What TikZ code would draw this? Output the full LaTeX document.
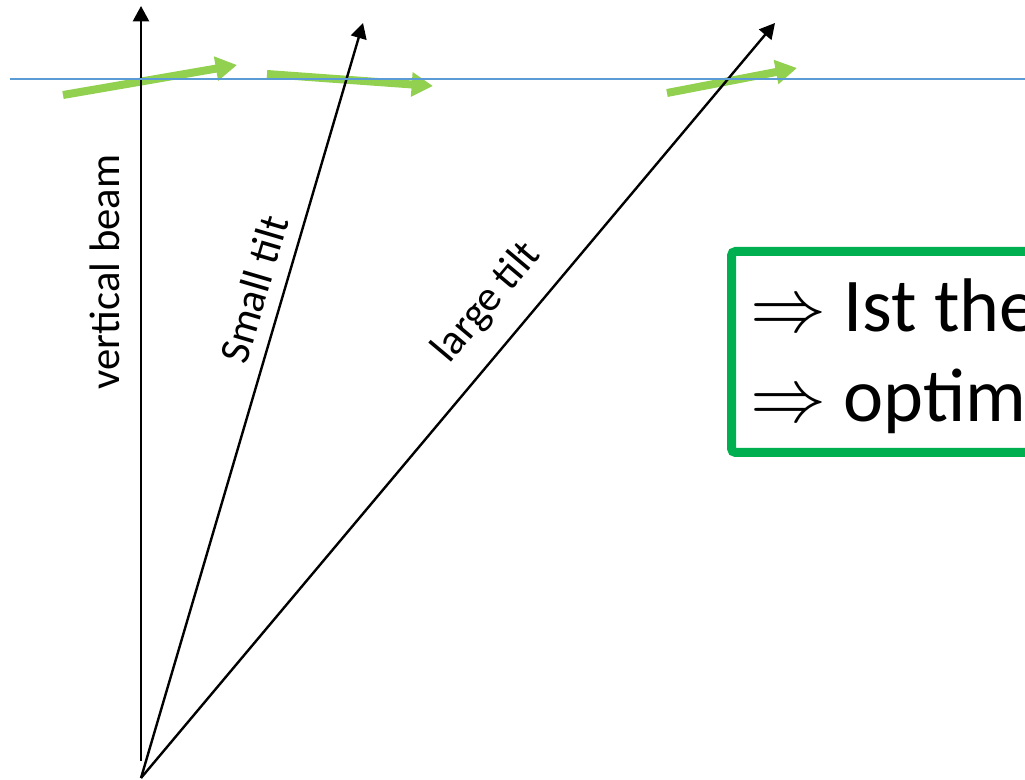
\RequirePackage{fix-cm}
\documentclass[tikz,border=0pt]{standalone}
\usepackage{amsmath}
\usepackage{fontspec}
\setmainfont{Carlito}
\usetikzlibrary{arrows.meta}
\definecolor{surfblue}{RGB}{91,155,213}
\definecolor{shiftgreen}{RGB}{146,208,80}
\definecolor{boxgreen}{RGB}{0,176,80}

\begin{document}
\begin{tikzpicture}[x=0.75pt, y=-0.75pt,
        beamarr/.style={line width=1.8pt, -{Triangle[length=11.5pt, width=12pt]}},
        greenarr/.style={shiftgreen, line width=6pt, -{Triangle[length=16pt, width=17.5pt]}},
        beamlabel/.style={font=\fontsize{32}{38}\selectfont, inner sep=0pt},
        boxtext/.style={font=\fontsize{57}{68}\selectfont, inner sep=0pt, anchor=base west}]
        \useasboundingbox (0, 0) rectangle (1025, 780);
        \clip (0, 0) rectangle (1025, 780);
        % beams
        \coordinate (O) at (141, 778);
        \coordinate (vbot) at (141, 761);
        \coordinate (vtop) at (141, 6);
        \coordinate (stop) at (363, 23);
        \coordinate (ltop) at (775, 23);
        % green shifts
        \coordinate (g1s) at (63, 95);
        \coordinate (g1e) at (237, 65);
        \coordinate (g2s) at (267, 74);
        \coordinate (g2e) at (433, 86);
        \coordinate (g3s) at (667, 93);
        \coordinate (g3e) at (797, 68);
        \draw[greenarr] (g1s) -- (g1e);
        \draw[greenarr] (g2s) -- (g2e);
        \draw[greenarr] (g3s) -- (g3e);
        \draw[beamarr] (vbot) -- (vtop);
        \draw[beamarr] (O) -- (stop);
        \draw[beamarr] (O) -- (ltop);
        % surface
        \coordinate (sl) at (10, 79);
        \coordinate (sr) at (1025, 79);
        \draw[surfblue, line width=1.1pt] (sl) -- (sr);
        \node[beamlabel, rotate=90] (lblvert) at (105, 272) {vertical beam};
        \node[beamlabel, rotate=73.6] (lblsmall) at (254, 289) {Small tilt};
        \node[beamlabel, rotate=50] (lbllarge) at (487, 303) {large tilt};
        % conclusion box
        \draw[boxgreen, line width=6.75pt, rounded corners=3pt] (731.5, 251.5) rectangle (1100, 452.5);
        \node[boxtext] (concl1) at (750, 332) {$\Rightarrow$ Ist the};
        \node[boxtext] (concl2) at (750, 422) {$\Rightarrow$ optim};
    \end{tikzpicture}
\end{document}
